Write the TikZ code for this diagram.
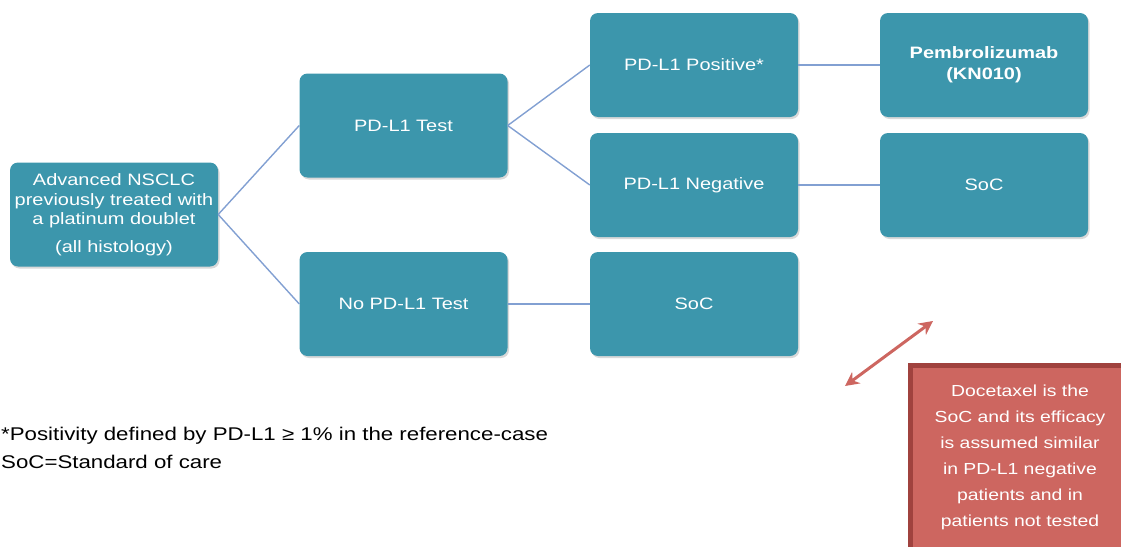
\documentclass[tikz,border=0pt]{standalone}
\usepackage{fontspec}
\setmainfont{Liberation Sans}[FakeStretch=1.21]
\usetikzlibrary{arrows.meta, shadows}
\definecolor{boxteal}{RGB}{60,150,172}
\definecolor{linkblue}{RGB}{130,160,210}
\definecolor{notered}{RGB}{205,102,96}
\definecolor{notedark}{RGB}{160,66,62}

\begin{document}
\begin{tikzpicture}[x=1pt, y=-1pt,
    stage/.style={rectangle, rounded corners=8pt, fill=boxteal, text=white,
      minimum width=208pt, minimum height=104pt, align=center, inner sep=2pt,
      font=\fontsize{16.5}{19.5}\selectfont,
      drop shadow={shadow xshift=1.5pt, shadow yshift=-2pt, opacity=0.3}},
    link/.style={draw=linkblue, line width=1.4pt}]
  \useasboundingbox (0,0) rectangle (1121,546);

  \node[stage] (start) at (114,214.5) {Advanced NSCLC\\previously treated with\\a platinum doublet\\[8pt](all histology)};
  \node[stage] (test) at (403.5,125.5) {PD-L1 Test};
  \node[stage] (notest) at (403.5,304) {No PD-L1 Test};
  \node[stage] (pos) at (694,65) {PD-L1 Positive*};
  \node[stage] (neg) at (694,185) {PD-L1 Negative};
  \node[stage] (socno) at (694,304) {SoC};
  \node[stage, font=\bfseries\fontsize{16.5}{21}\selectfont] (pembro) at (984,65) {Pembrolizumab\\(KN010)};
  \node[stage] (socneg) at (984,185) {SoC};

  \draw[link] (start.east) -- (test.west);
  \draw[link] (start.east) -- (notest.west);
  \draw[link] (test.east) -- (pos.west);
  \draw[link] (test.east) -- (neg.west);
  \draw[link] (notest) -- (socno);
  \draw[link] (pos) -- (pembro);
  \draw[link] (neg) -- (socneg);

  % note box, cut by the page edge
  \draw[fill=notered, draw=notedark, line width=5pt] (910.5,365.5) rectangle (1130,560);
  \node[text=white, align=center, font=\fontsize{16}{26}\selectfont] (note) at (1020,457)
    {Docetaxel is the\\SoC and its efficacy\\is assumed similar\\in PD-L1 negative\\patients and in\\patients not tested};

  \coordinate (tipa) at (845,386);
  \coordinate (tipb) at (933,321);
  \draw[notered, line width=3pt, {Stealth[length=14pt,width=14pt]}-{Stealth[length=14pt,width=14pt]}] (tipa) -- (tipb);

  \node[anchor=north west, align=left, inner sep=0pt, font=\fontsize{18.4}{28}\selectfont] (foot) at (1,427)
    {*Positivity defined by PD-L1 ≥ 1\% in the reference-case\\SoC=Standard of care};
\end{tikzpicture}
\end{document}
